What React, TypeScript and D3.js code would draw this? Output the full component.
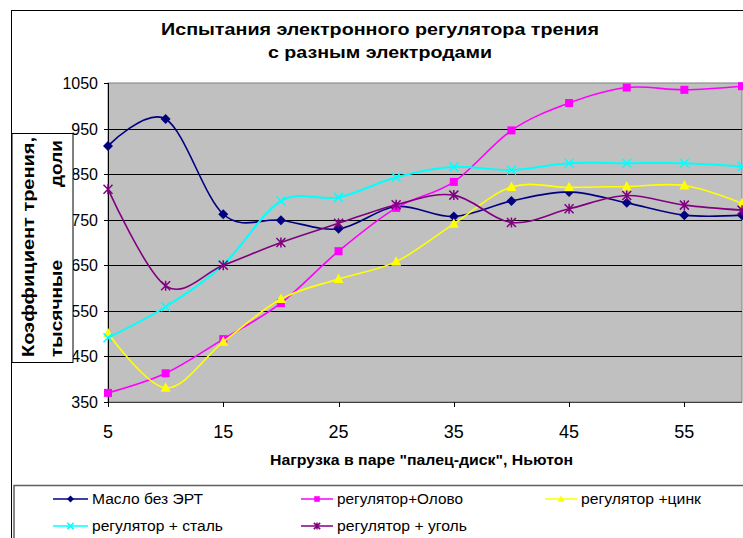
import React from 'react';
import * as d3 from 'd3';

// Load, N
const loads = [5, 10, 15, 20, 25, 30, 35, 40, 45, 50, 55, 60];
const xTicks = [5, 15, 25, 35, 45, 55];
const yTicks = [350, 450, 550, 650, 750, 850, 950, 1050];

// friction coefficient values per series
const oilNoErt = [912, 971, 762, 749, 730, 779, 757, 791, 811, 787, 760, 760];
const tinReg = [370, 413, 488, 567, 681, 776, 833, 946, 1006, 1040, 1035, 1043];
const zincReg = [501, 381, 482, 576, 620, 658, 741, 822, 821, 823, 825, 786];
const steelReg = [491, 559, 651, 791, 799, 843, 866, 859, 874, 874, 874, 867];
const coalReg = [817, 605, 650, 700, 742, 783, 804, 744, 774, 803, 782, 771];

const seriesNames = ['Масло без ЭРТ', 'регулятор+Олово', 'регулятор +цинк', 'регулятор + сталь', 'регулятор + уголь'];
const seriesColors = ['#000080', '#FF00FF', '#FFFF00', '#00FFFF', '#800080'];
const seriesMarkers = ['diamond', 'square', 'triangle', 'x', 'star'];
const seriesValues = [oilNoErt, tinReg, zincReg, steelReg, coalReg];

const FONT = '"Liberation Sans", Arial, sans-serif';

const Marker = ({ kind, x, y, color, r = 5 }: { kind: string; x: number; y: number; color: string; r?: number }) => {
  if (kind === 'diamond') {
    return <path d={`M${x},${y - r}L${x + r},${y}L${x},${y + r}L${x - r},${y}Z`} fill={color} />;
  }
  if (kind === 'square') {
    return <rect x={x - r * 0.8} y={y - r * 0.8} width={r * 1.6} height={r * 1.6} fill={color} />;
  }
  if (kind === 'triangle') {
    return <path d={`M${x},${y - r * 1.1}L${x + r},${y + r * 0.8}L${x - r},${y + r * 0.8}Z`} fill={color} />;
  }
  const a = r * 0.9;
  if (kind === 'x') {
    return <path d={`M${x - a},${y - a}L${x + a},${y + a}M${x + a},${y - a}L${x - a},${y + a}`} stroke={color} strokeWidth={1.5} />;
  }
  return (
    <path
      d={`M${x - a},${y - a}L${x + a},${y + a}M${x + a},${y - a}L${x - a},${y + a}M${x},${y - r}L${x},${y + r}`}
      stroke={color}
      strokeWidth={1.5}
    />
  );
};

const App = () => {
  const width = 743;
  const height = 538;
  const plot = { left: 108, right: 742, top: 83, bottom: 402 };

  const x = d3.scaleLinear().domain([5, 60]).range([plot.left, plot.right]);
  const y = d3.scaleLinear().domain([350, 1050]).range([plot.bottom, plot.top]);

  const line = d3
    .line<number>()
    .x((_, i) => x(loads[i]))
    .y((d) => y(d))
    .curve(d3.curveCatmullRom.alpha(0));

  // legend placement: line start, text end, row baseline
  const legendItems = [
    { i: 0, lx: 53, lw: 35, tw: 111, ly: 499 },
    { i: 1, lx: 301, lw: 32, tw: 126, ly: 499 },
    { i: 2, lx: 545, lw: 32, tw: 120, ly: 499 },
    { i: 3, lx: 53, lw: 35, tw: 131, ly: 526 },
    { i: 4, lx: 301, lw: 32, tw: 130, ly: 526 },
  ];

  return (
    <svg width={width} height={height} style={{ position: 'absolute', left: 0, top: 0, background: '#fff' }} fontFamily={FONT}>
      {/* outer frame */}
      <line x1={11.5} y1={10} x2={11.5} y2={height} stroke="#000" />
      <line x1={11} y1={10.5} x2={width} y2={10.5} stroke="#000" />

      {/* title */}
      <text x={380} y={35} textAnchor="middle" fontSize={16.5} fontWeight="bold" textLength={438} lengthAdjust="spacingAndGlyphs">
        Испытания электронного регулятора трения
      </text>
      <text x={380} y={58} textAnchor="middle" fontSize={16.5} fontWeight="bold" textLength={224} lengthAdjust="spacingAndGlyphs">
        с разным электродами
      </text>

      {/* plot area */}
      <rect x={plot.left} y={plot.top} width={plot.right - plot.left} height={plot.bottom - plot.top} fill="#C0C0C0" stroke="#808080" />

      {/* grid */}
      {yTicks.slice(1, -1).map((t) => (
        <line key={t} x1={plot.left} x2={plot.right} y1={Math.round(y(t)) + 0.5} y2={Math.round(y(t)) + 0.5} stroke="#000" />
      ))}

      {/* axes */}
      <line x1={plot.left + 0.5} x2={plot.left + 0.5} y1={plot.top} y2={plot.bottom} stroke="#000" />
      <line x1={plot.left} x2={plot.right} y1={plot.bottom + 0.5} y2={plot.bottom + 0.5} stroke="#404040" />
      {yTicks.map((t) => (
        <g key={t}>
          <line x1={plot.left - 4} x2={plot.left} y1={Math.round(y(t)) + 0.5} y2={Math.round(y(t)) + 0.5} stroke="#000" />
          <text x={98} y={y(t) + 6} textAnchor="end" fontSize={16}>
            {t}
          </text>
        </g>
      ))}
      {xTicks.map((t) => (
        <g key={t}>
          <line x1={Math.round(x(t)) + 0.5} x2={Math.round(x(t)) + 0.5} y1={plot.bottom} y2={plot.bottom + 5} stroke="#000" />
          <text x={x(t)} y={438} textAnchor="middle" fontSize={18}>
            {t}
          </text>
        </g>
      ))}

      {/* series */}
      {seriesValues.map((vals, s) => (
        <g key={s}>
          <path d={line(vals) || ''} fill="none" stroke={seriesColors[s]} strokeWidth={s === 3 ? 2 : 1.6} />
          {vals.map((v, i) => (
            <Marker key={i} kind={seriesMarkers[s]} x={x(loads[i])} y={y(v)} color={seriesColors[s]} />
          ))}
        </g>
      ))}

      {/* x axis title */}
      <text x={421.5} y={465} textAnchor="middle" fontSize={14} fontWeight="bold" textLength={303} lengthAdjust="spacingAndGlyphs">
        Нагрузка в паре "палец-диск", Ньютон
      </text>

      {/* y axis title box */}
      <rect x={12} y={133.5} width={61} height={229} fill="#fff" stroke="#000" />
      <g transform="translate(34,357) rotate(-90)">
        <text fontSize={17} fontWeight="bold" textLength={220} lengthAdjust="spacingAndGlyphs">Коэффициент трения,</text>
      </g>
      <g transform="translate(62,357) rotate(-90)">
        <text fontSize={17} fontWeight="bold" textLength={97} lengthAdjust="spacingAndGlyphs">тысячные</text>
      </g>
      <g transform="translate(62,140) rotate(-90)">
        <text fontSize={17} fontWeight="bold" textAnchor="end" textLength={47} lengthAdjust="spacingAndGlyphs">доли</text>
      </g>

      {/* legend */}
      <rect x={14} y={485.5} width={740} height={60} fill="#fff" stroke="#606060" strokeWidth={1.5} />
      {legendItems.map(({ i, lx, lw, tw, ly }) => (
        <g key={i}>
          <line x1={lx} x2={lx + lw} y1={ly} y2={ly} stroke={seriesColors[i]} strokeWidth={1.5} />
          <Marker kind={seriesMarkers[i]} x={lx + lw / 2} y={ly} color={seriesColors[i]} r={3.5} />
          <text x={lx + lw + 4} y={ly + 4.5} fontSize={14} textLength={tw} lengthAdjust="spacingAndGlyphs">
            {seriesNames[i]}
          </text>
        </g>
      ))}
    </svg>
  );
};

export default App;
